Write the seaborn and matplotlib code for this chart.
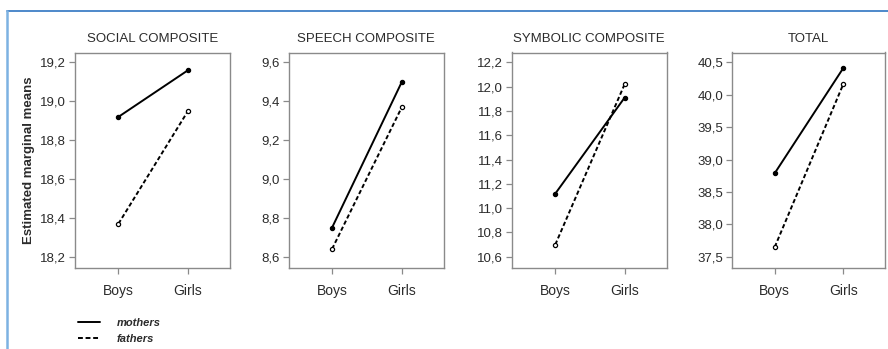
import matplotlib
matplotlib.use("Agg")
import matplotlib.pyplot as plt
from matplotlib.lines import Line2D
from matplotlib.ticker import FuncFormatter
import seaborn as sns
import pandas as pd

# ---- data ----
children = ["Boys", "Girls"]
parents = ["mothers", "fathers"]
panel_titles = ["SOCIAL COMPOSITE", "SPEECH COMPOSITE", "SYMBOLIC COMPOSITE", "TOTAL"]

social_mothers = [18.92, 19.16]
social_fathers = [18.37, 18.95]
speech_mothers = [8.75, 9.50]
speech_fathers = [8.64, 9.37]
symbolic_mothers = [11.12, 11.91]
symbolic_fathers = [10.70, 12.02]
total_mothers = [38.79, 40.41]
total_fathers = [37.65, 40.16]

social_ticks = [18.2, 18.4, 18.6, 18.8, 19.0, 19.2]
speech_ticks = [8.6, 8.8, 9.0, 9.2, 9.4, 9.6]
symbolic_ticks = [10.6, 10.8, 11.0, 11.2, 11.4, 11.6, 11.8, 12.0, 12.2]
total_ticks = [37.5, 38.0, 38.5, 39.0, 39.5, 40.0, 40.5]

panels = [
    (social_mothers, social_fathers, social_ticks),
    (speech_mothers, speech_fathers, speech_ticks),
    (symbolic_mothers, symbolic_fathers, symbolic_ticks),
    (total_mothers, total_fathers, total_ticks),
]

sns.set_style("white")
plt.rcParams["font.family"] = ["Liberation Sans", "DejaVu Sans"]

W, H = 888, 349
fig = plt.figure(figsize=(W / 100, H / 100), dpi=100)

lefts = [75, 288.5, 512, 732]
widths = [155, 155.5, 154.5, 152.5]
top_px, bot_px = 52.5, 268

grey = "#8a8a8a"
txt = "#2b2b2b"
dash = (0, (2.2, 1.3))

styles = {
    "mothers": dict(linestyle="-", marker="o", markerfacecolor="black", markeredgecolor="black"),
    "fathers": dict(linestyle=dash, marker="o", markerfacecolor="white", markeredgecolor="black"),
}

for i, ((m_vals, f_vals, ticks), title) in enumerate(zip(panels, panel_titles)):
    ax = fig.add_axes([lefts[i] / W, (H - bot_px) / H, widths[i] / W, (bot_px - top_px) / H])
    df = pd.DataFrame({
        "child": children * 2,
        "xpos": [0, 1, 0, 1],
        "parent": ["mothers"] * 2 + ["fathers"] * 2,
        "value": list(m_vals) + list(f_vals),
    })
    for p in parents:
        sub = df[df["parent"] == p]
        sns.lineplot(data=sub, x="xpos", y="value", color="black", linewidth=1.4,
                     markersize=3.0, markeredgewidth=0.9, ax=ax, legend=False, **styles[p])
    span = ticks[-1] - ticks[0]
    ax.set_ylim(ticks[0] - 0.058 * span, ticks[-1] + 0.0514 * span)
    ax.set_xlim(-0.625, 1.605)
    ax.set_yticks(ticks)
    ax.set_xticks([0, 1])
    ax.set_xticklabels(children)
    ax.yaxis.set_major_formatter(FuncFormatter(lambda v, pos: f"{v:.1f}".replace(".", ",")))
    ax.tick_params(axis="both", which="major", direction="out", length=4.5, width=0.9,
                   color=grey, labelsize=9.5, labelcolor=txt)
    ax.tick_params(axis="y", pad=2)
    ax.tick_params(axis="x", pad=7, labelsize=10)
    ax.tick_params(bottom=True, left=True)
    for s in ax.spines.values():
        s.set_color(grey)
        s.set_linewidth(1.0)
    ax.set_xlabel("")
    ax.set_ylabel("")
    ax.set_title(title, fontsize=9.5, color=txt, pad=7.5)
    if i == 0:
        ax.set_ylabel("Estimated marginal means", fontsize=9.5, fontweight="bold", color=txt)
        ax.yaxis.set_label_coords(-0.258, 0.5)

# legend
handles = [Line2D([], [], color="black", linewidth=1.4, linestyle="-"),
           Line2D([], [], color="black", linewidth=1.4, linestyle=(0, (2.5, 1.4)))]
leg = fig.legend(handles, parents, loc="upper left", bbox_to_anchor=(78 / W, 1 - 318 / H),
                 frameon=False, fontsize=8, handlelength=2.0, handletextpad=1.5,
                 labelspacing=0.55, borderpad=0, borderaxespad=0)
for t in leg.get_texts():
    t.set_fontstyle("italic")
    t.set_fontweight("bold")
    t.set_color(txt)

# blue page frame
fig.add_artist(Line2D([7 / W, 1], [1 - 11 / H, 1 - 11 / H], transform=fig.transFigure,
                      color="#3f7fc6", linewidth=1.3))
fig.add_artist(Line2D([7 / W, 7 / W], [0, 1 - 11 / H], transform=fig.transFigure,
                      color="#7db2e2", linewidth=1.8))

fig.savefig("out.png", dpi=100)
